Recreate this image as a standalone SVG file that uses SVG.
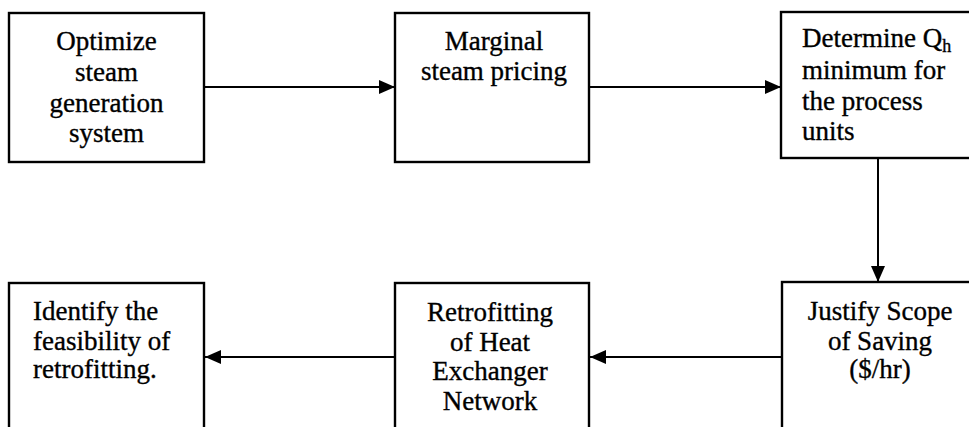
<svg xmlns="http://www.w3.org/2000/svg" width="969" height="427" viewBox="0 0 969 427">
  <style>
    .box { fill: #ffffff; stroke: #000000; stroke-width: 2.4; }
    .lbl { font-family: "Liberation Serif", "Times New Roman", serif; font-size: 27px; fill: #000000; stroke: #000000; stroke-width: 0.35; }
    .c { text-anchor: middle; }
    .sub { font-size: 18px; }
    .edge { stroke: #000000; stroke-width: 2; fill: none; marker-end: url(#head); }
  </style>
  <defs>
    <marker id="head" viewBox="0 0 16 14" refX="16" refY="7" markerWidth="16" markerHeight="14" markerUnits="userSpaceOnUse" orient="auto">
      <path d="M0,0 L16,7 L0,14 Z" fill="#000000"/>
    </marker>
  </defs>
  <rect width="969" height="427" fill="#ffffff"/>

  <g id="connectors">
    <line class="edge" x1="205" y1="87" x2="395" y2="87"/>
    <line class="edge" x1="590" y1="87" x2="781" y2="87"/>
    <line class="edge" x1="878" y1="159" x2="878" y2="282"/>
    <line class="edge" x1="782" y1="357" x2="590" y2="357"/>
    <line class="edge" x1="395" y1="357" x2="205" y2="357"/>
  </g>

  <g id="optimize">
    <rect class="box" x="9" y="13" width="195" height="149"/>
    <text class="lbl c" x="106.5" y="50">Optimize</text>
    <text class="lbl c" x="106.5" y="81">steam</text>
    <text class="lbl c" x="106.5" y="111.5">generation</text>
    <text class="lbl c" x="106.5" y="142">system</text>
  </g>

  <g id="marginal">
    <rect class="box" x="395" y="13" width="194" height="149"/>
    <text class="lbl c" x="494" y="50">Marginal</text>
    <text class="lbl c" x="494" y="80">steam pricing</text>
  </g>

  <g id="determine">
    <rect class="box" x="781" y="12" width="200" height="146"/>
    <text class="lbl" x="802" y="47">Determine Q<tspan class="sub" dy="5">h</tspan></text>
    <text class="lbl" x="802" y="79">minimum for</text>
    <text class="lbl" x="802" y="110">the process</text>
    <text class="lbl" x="802" y="140">units</text>
  </g>

  <g id="justify">
    <rect class="box" x="782" y="282" width="200" height="160"/>
    <text class="lbl c" x="880" y="320">Justify Scope</text>
    <text class="lbl c" x="880" y="350">of Saving</text>
    <text class="lbl c" x="880" y="378">($/hr)</text>
  </g>

  <g id="retrofit">
    <rect class="box" x="395" y="283" width="194" height="160"/>
    <text class="lbl c" x="490" y="321">Retrofitting</text>
    <text class="lbl c" x="490" y="351">of Heat</text>
    <text class="lbl c" x="490" y="380">Exchanger</text>
    <text class="lbl c" x="490" y="410">Network</text>
  </g>

  <g id="feasibility">
    <rect class="box" x="9" y="283" width="195" height="160"/>
    <text class="lbl" x="33" y="320">Identify the</text>
    <text class="lbl" x="33" y="350">feasibility of</text>
    <text class="lbl" x="33" y="378">retrofitting.</text>
  </g>
</svg>
